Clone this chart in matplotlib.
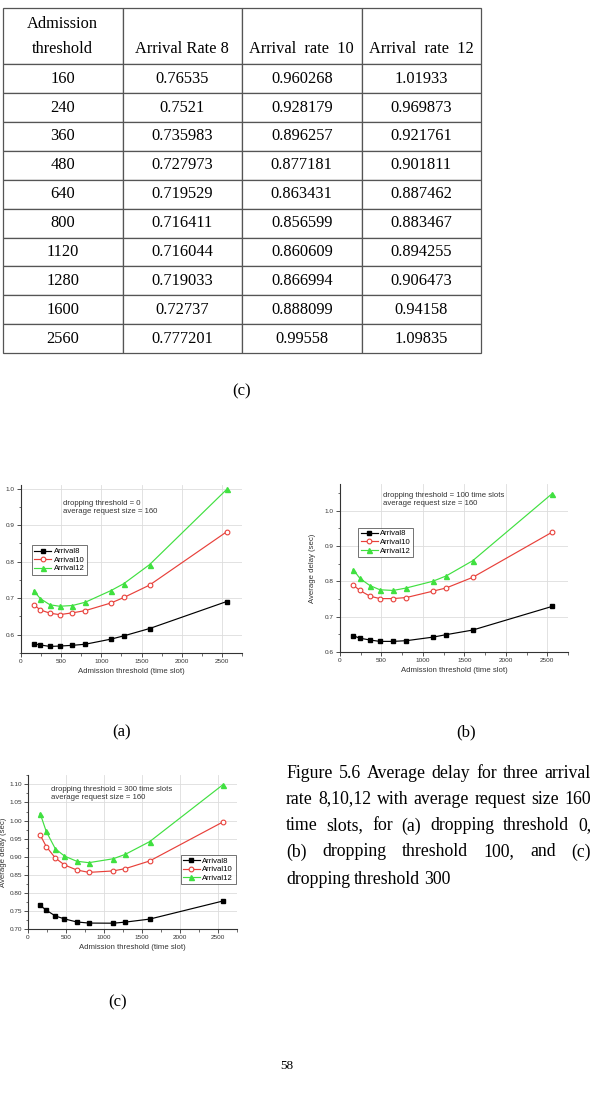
import matplotlib
matplotlib.use("Agg")
import matplotlib.pyplot as plt
from matplotlib.ticker import MultipleLocator, FormatStrFormatter

W, H = 591, 1101

# ---------------- data ----------------
thresholds = [160, 240, 360, 480, 640, 800, 1120, 1280, 1600, 2560]

# table / chart (c): dropping threshold 300
c_arr8 = [0.76535, 0.7521, 0.735983, 0.727973, 0.719529, 0.716411, 0.716044, 0.719033, 0.72737, 0.777201]
c_arr10 = [0.960268, 0.928179, 0.896257, 0.877181, 0.863431, 0.856599, 0.860609, 0.866994, 0.888099, 0.99558]
c_arr12 = [1.01933, 0.969873, 0.921761, 0.901811, 0.887462, 0.883467, 0.894255, 0.906473, 0.94158, 1.09835]
c_arr8_txt = ["0.76535", "0.7521", "0.735983", "0.727973", "0.719529", "0.716411", "0.716044", "0.719033", "0.72737", "0.777201"]
c_arr10_txt = ["0.960268", "0.928179", "0.896257", "0.877181", "0.863431", "0.856599", "0.860609", "0.866994", "0.888099", "0.99558"]
c_arr12_txt = ["1.01933", "0.969873", "0.921761", "0.901811", "0.887462", "0.883467", "0.894255", "0.906473", "0.94158", "1.09835"]

# chart (a): dropping threshold 0
a_arr8 = [0.575, 0.572, 0.568, 0.569, 0.571, 0.574, 0.588, 0.597, 0.617, 0.691]
a_arr10 = [0.682, 0.668, 0.659, 0.655, 0.660, 0.666, 0.687, 0.702, 0.736, 0.882]
a_arr12 = [0.720, 0.699, 0.682, 0.678, 0.680, 0.689, 0.721, 0.740, 0.792, 0.998]

# chart (b): dropping threshold 100
b_arr8 = [0.646, 0.639, 0.634, 0.630, 0.630, 0.632, 0.642, 0.649, 0.662, 0.729]
b_arr10 = [0.789, 0.774, 0.758, 0.751, 0.751, 0.754, 0.772, 0.781, 0.811, 0.939]
b_arr12 = [0.833, 0.808, 0.788, 0.776, 0.774, 0.781, 0.800, 0.815, 0.858, 1.048]

col_labels = ["Admission\nthreshold", "\nArrival Rate 8", "\nArrival  rate  10", "\nArrival  rate  12"]
series_names = ["Arrival8", "Arrival10", "Arrival12"]

SERIF = ["Liberation Serif", "DejaVu Serif"]
SANS = ["Liberation Sans", "DejaVu Sans"]

fig = plt.figure(figsize=(W / 100, H / 100), dpi=100)


def px_axes(l, t, r, b):
    return fig.add_axes([l / W, 1 - b / H, (r - l) / W, (b - t) / H])


def ftext(x, y, s, **kw):
    return fig.text(x / W, 1 - y / H, s, **kw)


# ---------------- table ----------------
tax = px_axes(3, 8, 481, 353)
tax.axis("off")
rows = [[str(t), a, b, c] for t, a, b, c in zip(thresholds, c_arr8_txt, c_arr10_txt, c_arr12_txt)]
tbl = tax.table(cellText=rows, colLabels=col_labels, cellLoc="center", bbox=[0, 0, 1, 1])
tbl.auto_set_font_size(False)
for (r, c), cell in tbl.get_celld().items():
    cell.set_edgecolor("#555555")
    cell.set_linewidth(0.9)
    txt = cell.get_text()
    txt.set_fontfamily(SERIF)
    txt.set_fontsize(11.8)
    if r == 0:
        cell.set_height(cell.get_height() * 1.95)
        txt.set_linespacing(1.75)
    cell.set_width(0.25)

ftext(242, 391, "(c)", family=SERIF, fontsize=12, ha="center", va="center")


# ---------------- charts ----------------
def make_chart(box, arr8, arr10, arr12, ylim, ymaj, ymin, yfmt, note, note_xy, leg_loc, leg_anchor, ylabel_x):
    ax = px_axes(*box)
    x = thresholds
    ax.plot(x, arr8, color="black", lw=0.85, marker="s", ms=3.2, mfc="black", mec="black", label=series_names[0])
    ax.plot(x, arr10, color="#e8403a", lw=0.85, marker="o", ms=3.4, mfc="white", mec="#e8403a", mew=0.8, label=series_names[1])
    ax.plot(x, arr12, color="#40e040", lw=0.85, marker="^", ms=3.6, mfc="#40e040", mec="#40e040", label=series_names[2])
    ax.set_xlim(0, 2750)
    ax.set_ylim(*ylim)
    ax.xaxis.set_major_locator(MultipleLocator(500))
    ax.xaxis.set_minor_locator(MultipleLocator(250))
    ax.yaxis.set_major_locator(MultipleLocator(ymaj))
    ax.yaxis.set_minor_locator(MultipleLocator(ymin))
    ax.yaxis.set_major_formatter(FormatStrFormatter(yfmt))
    ax.grid(True, which="major", color="#dddddd", lw=0.6)
    ax.set_axisbelow(True)
    for s in ["top", "right"]:
        ax.spines[s].set_visible(False)
    for s in ["left", "bottom"]:
        ax.spines[s].set_color("#333333")
        ax.spines[s].set_linewidth(0.8)
    ax.tick_params(which="major", direction="out", length=3, width=0.6, labelsize=4.6, pad=1.5, colors="#333333")
    ax.tick_params(which="minor", direction="out", length=1.8, width=0.5, colors="#333333")
    ax.set_xlabel("Admission threshold (time slot)", fontsize=5.6, family=SANS, color="#333333", labelpad=3)
    ax.set_ylabel("Average delay (sec)", fontsize=5.6, family=SANS, color="#333333")
    ax.yaxis.set_label_coords(ylabel_x, 0.5)
    for lab in ax.get_xticklabels() + ax.get_yticklabels():
        lab.set_family(SANS)
    ax.text(note_xy[0], note_xy[1], note, transform=ax.transAxes, fontsize=5.6, family=SANS,
            color="#333333", va="top", ha="left", linespacing=1.15)
    leg = ax.legend(loc=leg_loc, bbox_to_anchor=leg_anchor, fontsize=5.6, frameon=True, fancybox=False,
                    edgecolor="#333333", handlelength=2.2, handletextpad=0.3, borderpad=0.3,
                    labelspacing=0.15, borderaxespad=0)
    leg.get_frame().set_linewidth(0.6)
    for t in leg.get_texts():
        t.set_family(SANS)
    return ax


make_chart((21, 485, 242, 653), a_arr8, a_arr10, a_arr12, (0.55, 1.01), 0.1, 0.05, "%.1f",
           "dropping threshold = 0\naverage request size = 160", (0.19, 0.91),
           "upper left", (0.05, 0.64), -0.10)
make_chart((340, 484, 568, 652), b_arr8, b_arr10, b_arr12, (0.6, 1.075), 0.1, 0.05, "%.1f",
           "dropping threshold = 100 time slots\naverage request size = 160", (0.19, 0.95),
           "upper left", (0.08, 0.74), -0.105)
make_chart((28, 775, 237, 929), c_arr8, c_arr10, c_arr12, (0.70, 1.126), 0.05, 0.025, "%.2f",
           "dropping threshold = 300 time slots\naverage request size = 160", (0.11, 0.93),
           "upper left", (0.73, 0.48), -0.10)

ftext(122, 732, "(a)", family=SERIF, fontsize=12, ha="center", va="center")
ftext(466, 732, "(b)", family=SERIF, fontsize=12, ha="center", va="center")
ftext(118, 1002, "(c)", family=SERIF, fontsize=12, ha="center", va="center")

# ---------------- caption (justified) ----------------
cap_lines = [
    "Figure 5.6 Average delay for three arrival",
    "rate 8,10,12 with average request size 160",
    "time slots, for (a) dropping threshold 0,",
    "(b) dropping threshold 100, and (c)",
    "dropping threshold 300",
]
cap_x0, cap_x1 = 286, 591
cap_y = [773, 799, 826, 852, 879]
fig.canvas.draw()
renderer = fig.canvas.get_renderer()
for i, (line, y) in enumerate(zip(cap_lines, cap_y)):
    words = line.split(" ")
    objs = [ftext(0, y, w, family=SERIF, fontsize=12.8, ha="left", va="center") for w in words]
    widths = [o.get_window_extent(renderer).width for o in objs]
    if i < len(cap_lines) - 1 and len(words) > 1:
        gap = max((cap_x1 - cap_x0 - sum(widths)) / (len(words) - 1), 3.0)
    else:
        gap = 4.0
    xx = cap_x0
    for o, w in zip(objs, widths):
        o.set_x(xx / W)
        xx += w + gap

ftext(287, 1066, "58", family=SERIF, fontsize=9.5, ha="center", va="center")

fig.savefig("out.png", dpi=100)
